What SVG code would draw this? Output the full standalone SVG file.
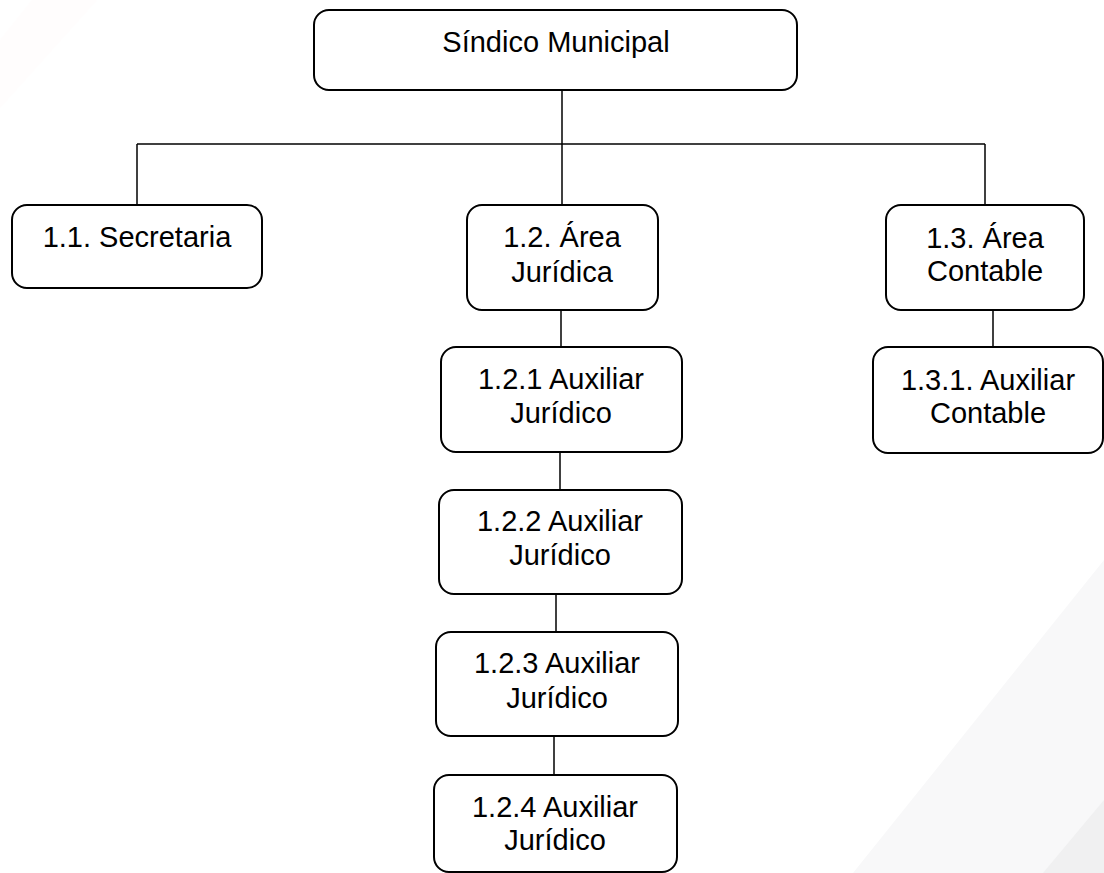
<svg xmlns="http://www.w3.org/2000/svg" width="1104" height="873" viewBox="0 0 1104 873">
<style>
.box{fill:#ffffff;stroke:#000000;stroke-width:2}
.t{font-family:"Liberation Sans",Arial,sans-serif;font-size:29px;fill:#000000;text-anchor:middle}
.c{stroke:#000000;stroke-width:1.5;fill:none}
</style>
<rect width="1104" height="873" fill="#ffffff"/>
<g id="background">
<polygon points="32,0 97,0 0,108 0,40" fill="#fffdfd"/>
<polygon points="1104,560 1104,873 853,873" fill="#f8f8f9"/>
<polygon points="1104,800 1104,873 1043,873" fill="#f0f0f1"/>
</g>
<g id="connectors">
<line class="c" x1="562" y1="90" x2="562" y2="144"/>
<line class="c" x1="137" y1="144" x2="985" y2="144"/>
<line class="c" x1="137" y1="144" x2="137" y2="205"/>
<line class="c" x1="562" y1="144" x2="562" y2="205"/>
<line class="c" x1="985" y1="144" x2="985" y2="205"/>
<line class="c" x1="561" y1="310" x2="561" y2="347"/>
<line class="c" x1="560" y1="452" x2="560" y2="490"/>
<line class="c" x1="556" y1="594" x2="556" y2="632"/>
<line class="c" x1="554" y1="736" x2="554" y2="775"/>
<line class="c" x1="993" y1="310" x2="993" y2="347"/>
</g>
<g id="n-sindico">
<rect class="box" x="314" y="10" width="483" height="80" rx="15"/>
<text class="t" x="556" y="52">Síndico Municipal</text>
</g>
<g id="n-1-1">
<rect class="box" x="12" y="205" width="250" height="83" rx="15"/>
<text class="t" x="137" y="247">1.1. Secretaria</text>
</g>
<g id="n-1-2">
<rect class="box" x="467" y="205" width="191" height="105" rx="15"/>
<text class="t" x="562" y="247">1.2. Área</text>
<text class="t" x="562" y="282">Jurídica</text>
</g>
<g id="n-1-3">
<rect class="box" x="886" y="205" width="198" height="105" rx="15"/>
<text class="t" x="985" y="248">1.3. Área</text>
<text class="t" x="985" y="281">Contable</text>
</g>
<g id="n-1-3-1">
<rect class="box" x="873" y="347" width="230" height="106" rx="15"/>
<text class="t" x="988" y="390">1.3.1. Auxiliar</text>
<text class="t" x="988" y="423">Contable</text>
</g>
<g id="n-1-2-1">
<rect class="box" x="441" y="347" width="241" height="105" rx="15"/>
<text class="t" x="561" y="389">1.2.1 Auxiliar</text>
<text class="t" x="561" y="423">Jurídico</text>
</g>
<g id="n-1-2-2">
<rect class="box" x="439" y="490" width="243" height="104" rx="15"/>
<text class="t" x="560" y="531">1.2.2 Auxiliar</text>
<text class="t" x="560" y="565">Jurídico</text>
</g>
<g id="n-1-2-3">
<rect class="box" x="436" y="632" width="242" height="104" rx="15"/>
<text class="t" x="557" y="673">1.2.3 Auxiliar</text>
<text class="t" x="557" y="708">Jurídico</text>
</g>
<g id="n-1-2-4">
<rect class="box" x="434" y="775" width="243" height="97" rx="15"/>
<text class="t" x="555" y="817">1.2.4 Auxiliar</text>
<text class="t" x="555" y="850">Jurídico</text>
</g>
</svg>
